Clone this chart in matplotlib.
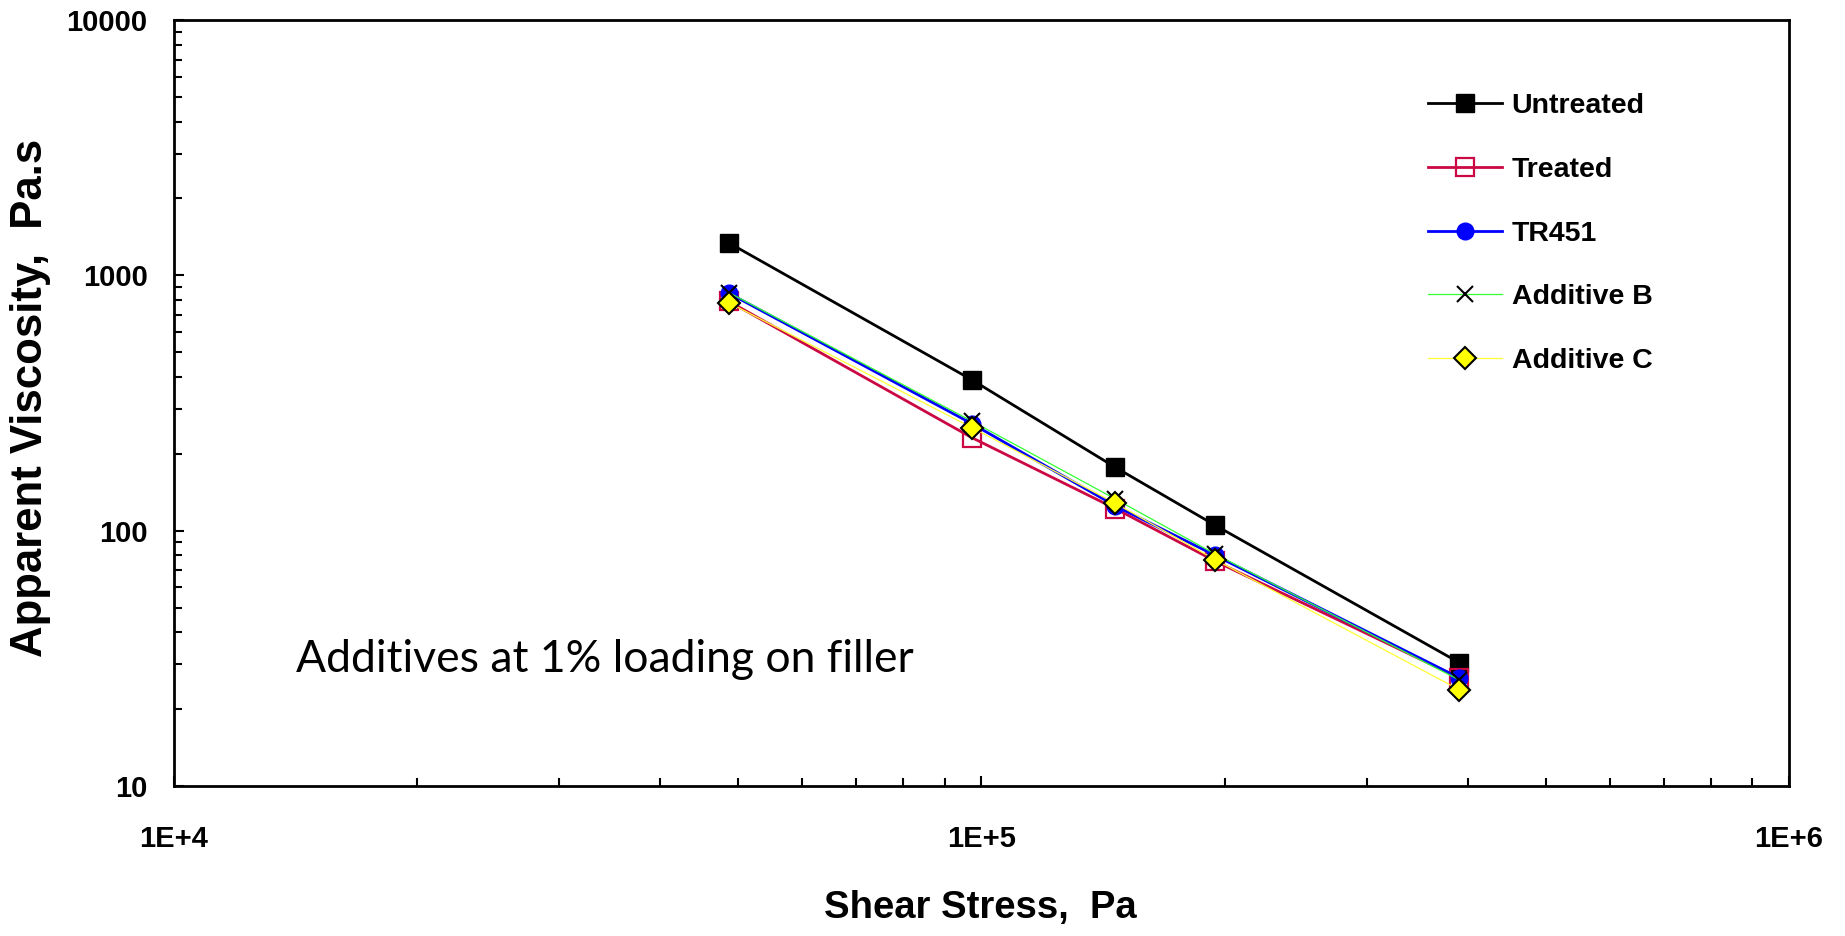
import matplotlib
matplotlib.use("Agg")
import matplotlib.pyplot as plt
from matplotlib.ticker import FixedLocator, FixedFormatter, LogLocator, NullFormatter

shear_stress = [48700, 97400, 146500, 194700, 390700]
untreated = [1338, 389, 177, 105, 30.4]
treated = [790, 231, 122, 76, 26.5]
tr451 = [850, 262, 125, 80, 26.5]
additive_b = [855, 268, 133, 81, 26]
additive_c = [780, 253, 128, 77, 23.8]

x_ticks = [1e4, 1e5, 1e6]
x_tick_labels = ["1E+4", "1E+5", "1E+6"]
y_ticks = [10, 100, 1000, 10000]
y_tick_labels = ["10", "100", "1000", "10000"]

plt.rcParams['font.family'] = ['Liberation Sans', 'DejaVu Sans']

fig = plt.figure(figsize=(18.45, 9.36), dpi=100)
ax = fig.add_axes([0.0943, 0.1603, 0.9696 - 0.0943, 0.9786 - 0.1603])

ax.plot(shear_stress, untreated, color='black', lw=2.0, marker='s', ms=13,
        mfc='black', mec='black', label='Untreated', zorder=3)
ax.plot(shear_stress, treated, color='#CC0844', lw=2.0, marker='s', ms=13,
        mfc='none', mec='#CC0844', mew=1.6, label='Treated', zorder=4)
ax.plot(shear_stress, tr451, color='#0000FF', lw=2.0, marker='o', ms=12,
        mfc='#0000FF', mec='#0000FF', label='TR451', zorder=5)
ax.plot(shear_stress, additive_b, color='#33FF33', lw=0.9, marker='x', ms=12,
        mec='black', mew=1.5, label='Additive B', zorder=6)
ax.plot(shear_stress, additive_c, color='#FFFF33', lw=0.9, marker='D', ms=11,
        mfc='#FFFF00', mec='black', mew=1.5, label='Additive C', zorder=7)

ax.set_xscale('log')
ax.set_yscale('log')
ax.set_xlim(1e4, 1e6)
ax.set_ylim(10, 10000)

ax.xaxis.set_major_locator(FixedLocator(x_ticks))
ax.xaxis.set_major_formatter(FixedFormatter(x_tick_labels))
ax.yaxis.set_major_locator(FixedLocator(y_ticks))
ax.yaxis.set_major_formatter(FixedFormatter(y_tick_labels))
ax.xaxis.set_minor_locator(LogLocator(base=10, subs=range(2, 10)))
ax.yaxis.set_minor_locator(LogLocator(base=10, subs=range(2, 10)))
ax.xaxis.set_minor_formatter(NullFormatter())
ax.yaxis.set_minor_formatter(NullFormatter())

for s in ax.spines.values():
    s.set_linewidth(2.0)
ax.tick_params(axis='both', which='both', direction='in', width=1.5,
               top=False, right=False)
ax.tick_params(axis='both', which='major', length=7)
ax.tick_params(axis='both', which='minor', length=6)
ax.tick_params(axis='x', which='major', pad=28, labelsize=21)
ax.tick_params(axis='y', which='major', pad=19, labelsize=21)
for lbl in ax.get_xticklabels() + ax.get_yticklabels():
    lbl.set_fontweight('bold')

fig.text(980 / 1845, 1 - 908 / 936, 'Shear Stress,  Pa', ha='center', va='center',
         fontsize=27.5, fontweight='bold')
fig.text(31 / 1845, 1 - 398 / 936, 'Apparent Viscosity,  Pa.s', ha='center', va='center',
         rotation=90, fontsize=31.5, fontweight='bold')

ax.text(296 / 1845, 1 - 672 / 936, 'Additives at 1% loading on filler',
        transform=fig.transFigure, ha='left', va='baseline',
        fontsize=32, family=['Lato', 'DejaVu Sans'])

leg = ax.legend(loc='upper left',
                bbox_to_anchor=((1417 - 174) / (1789 - 174), (936 - 82 - 150) / (786 - 20)),
                frameon=False, prop={'size': 20.5, 'weight': 'bold'},
                handlelength=2.6, handletextpad=0.33,
                labelspacing=1.32, borderaxespad=0)

fig.savefig('out.png', dpi=100)
